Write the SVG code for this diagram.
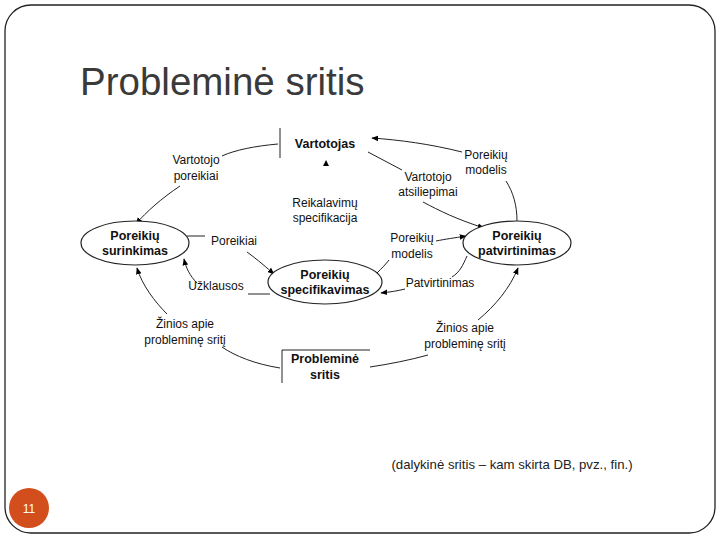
<svg xmlns="http://www.w3.org/2000/svg" width="720" height="540" viewBox="0 0 720 540">
<defs>
<marker id="ah" viewBox="0 0 10 10" refX="9" refY="5" markerWidth="7" markerHeight="7" orient="auto"><path d="M0,1 L10,5 L0,9 z" fill="#000"/></marker>
</defs>
<style>
text{font-family:"Liberation Sans",Arial,sans-serif;fill:#111}
.l{font-size:12px;text-anchor:middle}
.n{font-size:12.5px;font-weight:bold;text-anchor:middle}
.c{fill:none;stroke:#222;stroke-width:1}
.a{marker-end:url(#ah)}
.e{fill:#fff;stroke:#222;stroke-width:1.2}
</style>
<rect x="5" y="5" width="710" height="528" rx="26" fill="#fff" stroke="#222" stroke-width="1.3"/>
<text x="80" y="95" style="font-size:38.5px;fill:#3a3a3a">Probleminė sritis</text>
<text x="512" y="469" style="font-size:13.2px;fill:#222" text-anchor="middle">(dalykinė sritis – kam skirta DB, pvz., fin.)</text>
<circle cx="29" cy="508" r="20" fill="#d24e1d"/>
<text x="29" y="513" style="font-size:12px;fill:#fff" text-anchor="middle">11</text>

<g id="connectors">
<path class="c" d="M278,144 C255,146 235,150 222,156"/>
<path class="c a" d="M180,186 C162,198 146,212 136,224"/>
<path class="c" d="M187,236 L205,236"/>
<path class="c a" d="M247,252 C258,260 267,268 274,274"/>
<path class="c" d="M248,294 L270,294"/>
<path class="c a" d="M197,283 C190,276 186,268 184,259"/>
<path class="c" d="M280,368 C255,364 235,356 222,347"/>
<path class="c a" d="M167,314 C155,302 142,285 137,268"/>
<path class="c" d="M368,152 L402,170"/>
<path class="c a" d="M423,202 C440,211 456,219 484,228"/>
<path class="c" d="M517,221 C517,205 513,192 506,181"/>
<path class="c a" d="M462,152 C430,144 400,140 372,138"/>
<path class="c" d="M377,273 C382,268 386,264 389,260"/>
<path class="c a" d="M436,241 C446,239 454,238 466,236"/>
<path class="c" d="M467,256 C463,265 460,272 452,277"/>
<path class="c a" d="M405,289 C397,291 390,292 381,293"/>
<path class="c" d="M370,367 C390,364 410,360 428,355"/>
<path class="c a" d="M478,320 C495,306 510,288 518,268"/>
<path d="M326,160 L329,166 L323,166 z" fill="#000"/>
</g>

<g id="vartotojas">
<line x1="280" y1="128" x2="280" y2="158" stroke="#222"/>
<text class="n" x="325" y="148">Vartotojas</text>
</g>
<g id="problemine">
<path d="M370,350 L282,350 L282,383" fill="none" stroke="#222"/>
<text class="n" x="325" y="363">Probleminė</text>
<text class="n" x="325" y="379">sritis</text>
</g>
<g id="surinkimas">
<ellipse class="e" cx="135" cy="243" rx="54" ry="22"/>
<text class="n" x="135" y="240">Poreikių</text>
<text class="n" x="135" y="255">surinkimas</text>
</g>
<g id="specifikavimas">
<ellipse class="e" cx="325" cy="282" rx="57" ry="22"/>
<text class="n" x="325" y="279">Poreikių</text>
<text class="n" x="325" y="294">specifikavimas</text>
</g>
<g id="patvirtinimas">
<ellipse class="e" cx="517" cy="243" rx="54" ry="22"/>
<text class="n" x="517" y="240">Poreikių</text>
<text class="n" x="517" y="255">patvirtinimas</text>
</g>

<g id="labels">
<text class="l" x="196" y="164">Vartotojo</text>
<text class="l" x="196" y="180">poreikiai</text>
<text class="l" x="234" y="245">Poreikiai</text>
<text class="l" x="216" y="290">Užklausos</text>
<text class="l" x="185" y="328">Žinios apie</text>
<text class="l" x="185" y="344">probleminę sritį</text>
<text class="l" x="325" y="207">Reikalavimų</text>
<text class="l" x="325" y="222">specifikacija</text>
<text class="l" x="428" y="181">Vartotojo</text>
<text class="l" x="428" y="196">atsiliepimai</text>
<text class="l" x="486" y="159">Poreikių</text>
<text class="l" x="486" y="174">modelis</text>
<text class="l" x="412" y="242">Poreikių</text>
<text class="l" x="412" y="258">modelis</text>
<text class="l" x="440" y="287">Patvirtinimas</text>
<text class="l" x="465" y="332">Žinios apie</text>
<text class="l" x="465" y="348">probleminę sritį</text>
</g>
</svg>
